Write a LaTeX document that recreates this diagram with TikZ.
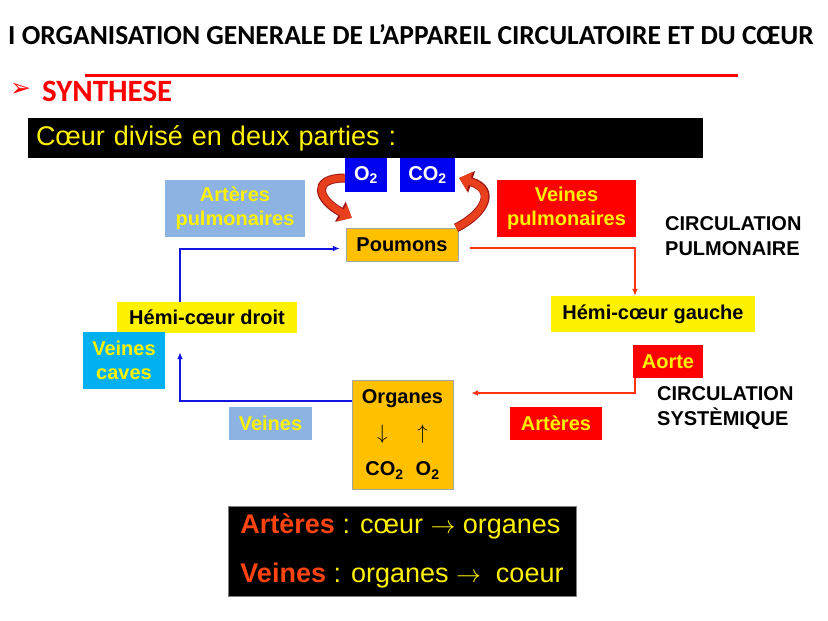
\documentclass[tikz,border=0pt]{standalone}
\usepackage{fontspec}
\setmainfont{Liberation Sans}
\newfontfamily\titlefont{Carlito}
\newfontfamily\symfont{DejaVu Sans}
\usepackage{tikz}
\usetikzlibrary{arrows.meta,positioning}
\definecolor{skyblue}{HTML}{8DB3E2}
\definecolor{gold}{HTML}{FFC000}
\definecolor{cyanbox}{HTML}{00B0F0}
\definecolor{boxred}{HTML}{FF0000}
\definecolor{boxblue}{HTML}{0000F0}
\definecolor{linered}{HTML}{FF3311}
\definecolor{lineblue}{HTML}{1515E0}
\definecolor{txtred}{HTML}{FF4411}
\definecolor{curvred}{HTML}{E8401C}
\definecolor{curvdark}{HTML}{A01515}

\begin{document}
\begin{tikzpicture}[x=1pt, y=-1pt,
    box/.style={inner sep=0pt, align=center, font=\fontsize{20}{24}\selectfont\bfseries},
    lbl/.style={box, text=yellow},
    plain/.style={inner sep=0pt, align=left, anchor=west,
    font=\fontsize{20}{25}\selectfont\bfseries},
    arr/.style={-{Latex[length=7pt, width=6pt]}, line width=2pt},
    bigarr/.style={line width=7pt, curvred, -{Triangle[length=11pt, width=19pt]},
    preaction={draw=curvdark, line width=9pt, arrows=-{Triangle[length=13pt, width=22pt]}}}
]
\useasboundingbox (0,0) rectangle (828,621);

\node[inner sep=0pt, font=\titlefont\fontsize{27.5}{30}\selectfont\bfseries] (title) at (411,35)
    {I ORGANISATION GENERALE DE L’APPAREIL CIRCULATOIRE ET DU CŒUR};
\draw[boxred, line width=3pt] (85,75) -- (738,75);
\node[inner sep=0pt, anchor=west, text=boxred, font=\symfont\fontsize{25}{25}\selectfont] (bullet) at (10,90) {➢};
\node[inner sep=0pt, anchor=west, text=boxred, font=\titlefont\fontsize{31}{31}\selectfont\bfseries] (synth) at (42,91) {SYNTHESE};

\node[fill=black, minimum width=675pt, minimum height=40pt, text width=659pt, inner xsep=8pt,
    inner ysep=0pt, align=left, text=yellow, font=\fontsize{27}{30}\selectfont] (bar) at (365.5,138)
    {Cœur divisé en deux parties :};

\node[lbl, text=white, fill=boxblue, minimum width=42pt, minimum height=34pt] (o2) at (366,175) {O\textsubscript{2}};
\node[lbl, text=white, fill=boxblue, minimum width=55pt, minimum height=34pt] (co2) at (427.5,175) {CO\textsubscript{2}};
\node[lbl, fill=skyblue, minimum width=140pt, minimum height=57pt] (artpulm) at (235,208.5) {Artères\\pulmonaires};
\node[lbl, fill=boxred, minimum width=139pt, minimum height=57pt] (veinpulm) at (566.5,208.5) {Veines\\pulmonaires};
\node[box, fill=gold, draw=gray!70, minimum width=112pt, minimum height=33pt] (poumons) at (402,244.5) {Poumons};
\node[plain] (circpulm) at (665,236) {CIRCULATION\\PULMONAIRE};

\node[box, fill=yellow, minimum width=204pt, minimum height=36pt] (hcg) at (653,314) {Hémi-cœur gauche};
\node[box, fill=yellow, minimum width=180pt, minimum height=31pt] (hcd) at (207,317.5) {Hémi-cœur droit};
\node[lbl, fill=cyanbox, minimum width=82pt, minimum height=57pt] (vcaves) at (124,360.5) {Veines\\caves};
\node[lbl, fill=boxred, minimum width=70pt, minimum height=33pt] (aorte) at (668,361.5) {Aorte};
\node[plain] (circsys) at (657,408) {CIRCULATION\\SYSTÈMIQUE};

\node[box, fill=gold, draw=gray!70, minimum width=101pt, minimum height=109pt,
    font=\fontsize{20}{36}\selectfont\bfseries] (organes) at (402.5,434.5)
    {Organes\\$\downarrow$\hspace{30pt}$\uparrow$\\CO\textsubscript{2}\hspace{12pt}O\textsubscript{2}};
\node[lbl, fill=skyblue, minimum width=83pt, minimum height=33pt] (veines) at (270.5,423.5) {Veines};
\node[lbl, fill=boxred, minimum width=92pt, minimum height=33pt] (arteres) at (556,423.5) {Artères};

\node[fill=black, draw=gray, minimum width=348pt, minimum height=90pt, inner sep=0pt, align=left,
    text=yellow, font=\fontsize{27}{49}\selectfont] (memo) at (402,551)
    {\textcolor{txtred}{\bfseries Artères} : cœur $\rightarrow$ organes\\
     \textcolor{txtred}{\bfseries Veines} : organes $\rightarrow$\ \ coeur};

\draw[arr, lineblue] ([xshift=-27pt]hcd.north) |- ([yshift=-4pt, xshift=-6pt]poumons.west);
\draw[arr, linered, shorten <=12pt] ([yshift=-3pt]poumons.east) -| ([xshift=-18pt]hcg.north);
\draw[arr, linered, shorten >=18pt] ([xshift=2pt]aorte.south west) |- ([yshift=41.5pt]organes.east);
\draw[arr, lineblue, shorten >=19pt] ([yshift=34pt]organes.west) -| ([xshift=-27pt]hcd.south);

\draw[bigarr] ([yshift=-3pt]o2.west) .. controls +(-34,0) and +(-34,-18) .. ([xshift=6pt, yshift=10pt]poumons.north west);
\draw[bigarr] ([xshift=-2pt]poumons.north east) .. controls +(28,-14) and +(38,12) .. ([xshift=4pt, yshift=-3pt]co2.east);
\end{tikzpicture}
\end{document}
